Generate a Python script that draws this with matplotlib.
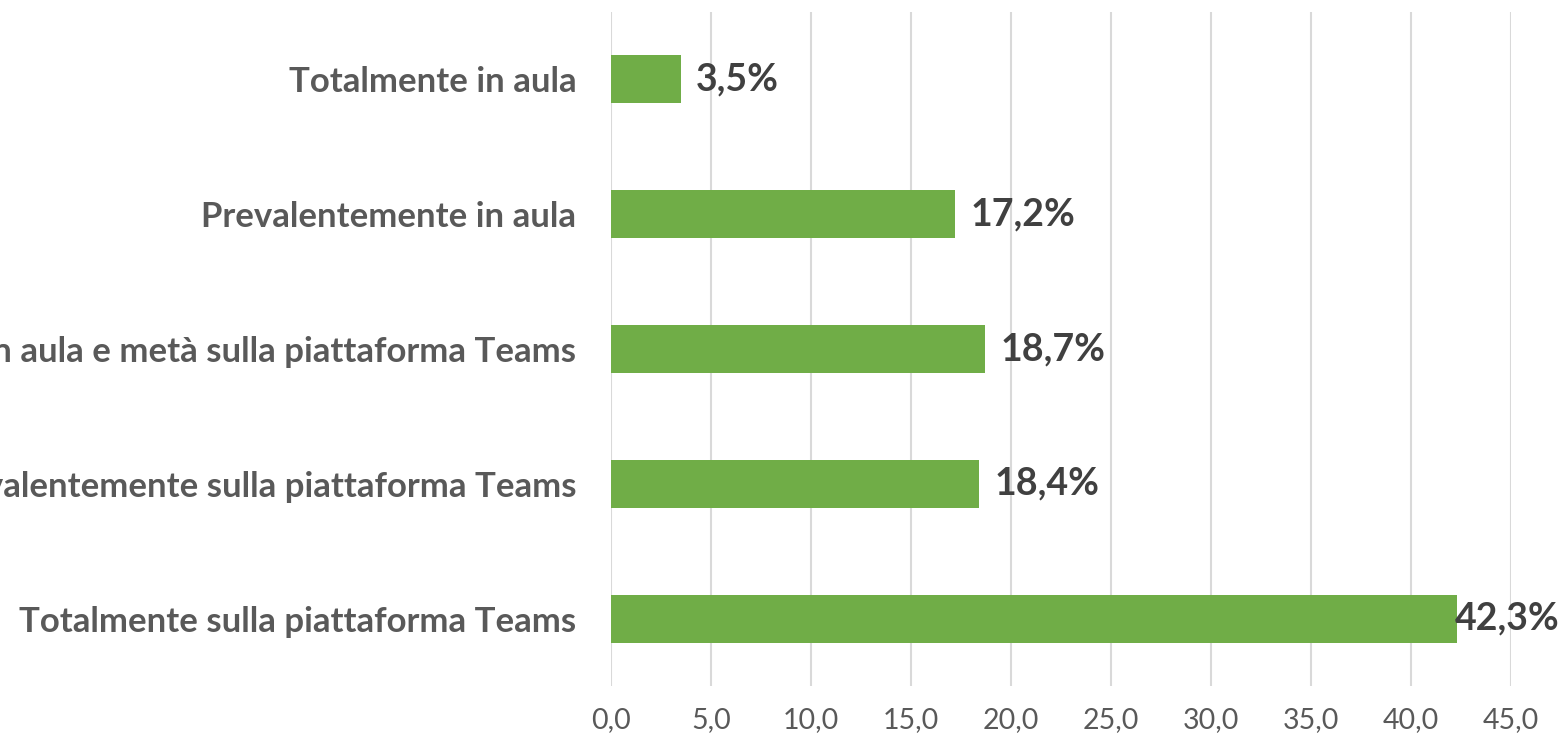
import matplotlib.pyplot as plt
from matplotlib.ticker import FuncFormatter

# Data (top to bottom as shown)
categories = [
    "Totalmente in aula",
    "Prevalentemente in aula",
    "Metà in aula e metà sulla piattaforma Teams",
    "Prevalentemente sulla piattaforma Teams",
    "Totalmente sulla piattaforma Teams",
]
values = [3.5, 17.2, 18.7, 18.4, 42.3]
x_ticks = [0, 5, 10, 15, 20, 25, 30, 35, 40, 45]

bar_color = "#70AD47"
grid_color = "#D9D9D9"
cat_color = "#595959"
lab_color = "#404040"

plt.rcParams["font.family"] = ["Lato", "DejaVu Sans"]

fig = plt.figure(figsize=(15.66, 7.44), dpi=100)
ax = fig.add_axes([611 / 1566, 1 - 686 / 744, 900 / 1566, 674 / 744])

ypos = list(range(len(categories)))
ax.barh(ypos, values, height=0.356, color=bar_color, zorder=2)
ax.set_ylim(len(categories) - 0.5, -0.5)
ax.set_xlim(0, 45)

ax.set_xticks(x_ticks)
ax.xaxis.set_major_formatter(FuncFormatter(lambda v, _: f"{v:.1f}".replace(".", ",")))
ax.set_yticks(ypos)
ax.set_yticklabels(categories, fontweight="bold", fontsize=25, color=cat_color)
ax.tick_params(axis="y", length=0, pad=25)
ax.tick_params(axis="x", length=0, pad=15, labelsize=20.5, labelcolor=cat_color)

ax.grid(axis="x", color=grid_color, lw=1.5, zorder=0)
ax.grid(axis="y", visible=False)
ax.spines[["left", "right", "top", "bottom"]].set_visible(False)

# Data labels, pushed back inside the figure if they would run off the edge
fig.canvas.draw()
renderer = fig.canvas.get_renderer()
for y, v in zip(ypos, values):
    t = ax.annotate(f"{v:.1f}%".replace(".", ","), (v, y), xytext=(11, 0),
                    textcoords="offset points", ha="left", va="center",
                    fontsize=27, fontweight="bold", color=lab_color, zorder=3)
    bb = t.get_window_extent(renderer)
    overflow = bb.x1 - (fig.bbox.width - 6)
    if overflow > 0:
        t.set_position((11 - overflow * 72 / fig.dpi, 0))

fig.savefig("out.png", dpi=100)
